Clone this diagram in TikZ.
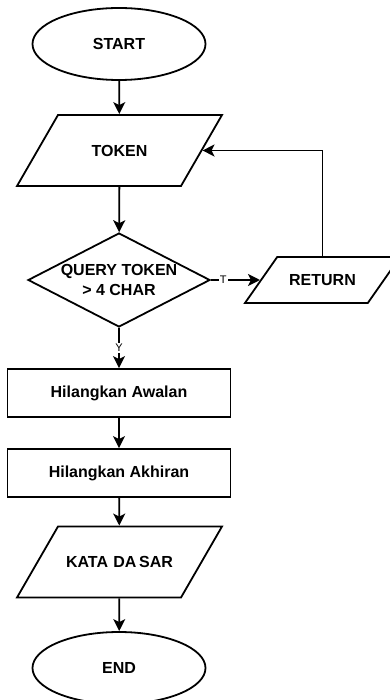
\documentclass[tikz,border=0pt]{standalone}
\usepackage{fontspec}
\setmainfont{Liberation Sans}
\usepackage{tikz}
\usetikzlibrary{arrows.meta,shapes.geometric}
\newcommand{\flowfont}{\bfseries\fontsize{16}{19.4}\selectfont}
\tikzset{
  terminal/.style={draw, ellipse, line width=1.8pt, minimum width=173pt, minimum height=72pt, inner sep=0pt, font=\flowfont},
  io/.style={draw, trapezium, trapezium left angle=60, trapezium right angle=120, line width=1.8pt, inner sep=0pt, align=center, text width=123pt, text height=41.25pt, text depth=29.75pt, font=\flowfont},
  process/.style={draw, rectangle, line width=1.8pt, minimum width=223pt, minimum height=48pt, inner sep=0pt, font=\flowfont},
  decision/.style={draw, diamond, aspect=1.94, line width=1.8pt, minimum width=182pt, minimum height=94pt, inner sep=0pt, align=center, font=\flowfont},
  arr/.style={-{Stealth[length=12pt, width=12pt, inset=3pt]}, line width=1.8pt},
  edgelabel/.style={fill=white, inner sep=1pt, font=\fontsize{11}{13}\selectfont}
}

\begin{document}
\begin{tikzpicture}[x=1pt, y=-1pt]
\useasboundingbox (0,0) rectangle (389,700);
\node[terminal] (start) at (119,44) {START};
\node[io] (token) at (119.5,150.5) {TOKEN};
\node[decision] (cond) at (119,280) {QUERY TOKEN\\> 4 CHAR};
\node[io, trapezium left angle=55, trapezium right angle=125, text width=90.6pt, text height=28.75pt, text depth=17.25pt] (ret) at (322.5,280) {RETURN};
\node[process] (awalan) at (119,393) {Hilangkan Awalan};
\node[process] (akhiran) at (119,473) {Hilangkan Akhiran};
\node[io] (kata) at (119.5,562) {KATA DA\,SAR};
\node[terminal] (end) at (119,668) {END};

\draw[arr] (start) -- (token);
\draw[arr] (token) -- (cond);
\draw[arr] (cond) -- node[edgelabel, pos=0.25] {T} (ret);
\draw[arr] (ret.north) |- (token.east);
\draw[arr] (cond) -- node[edgelabel] {Y} (awalan);
\draw[arr] (awalan) -- (akhiran);
\draw[arr] (akhiran) -- (kata);
\draw[arr] (kata) -- (end);
\end{tikzpicture}
\end{document}
